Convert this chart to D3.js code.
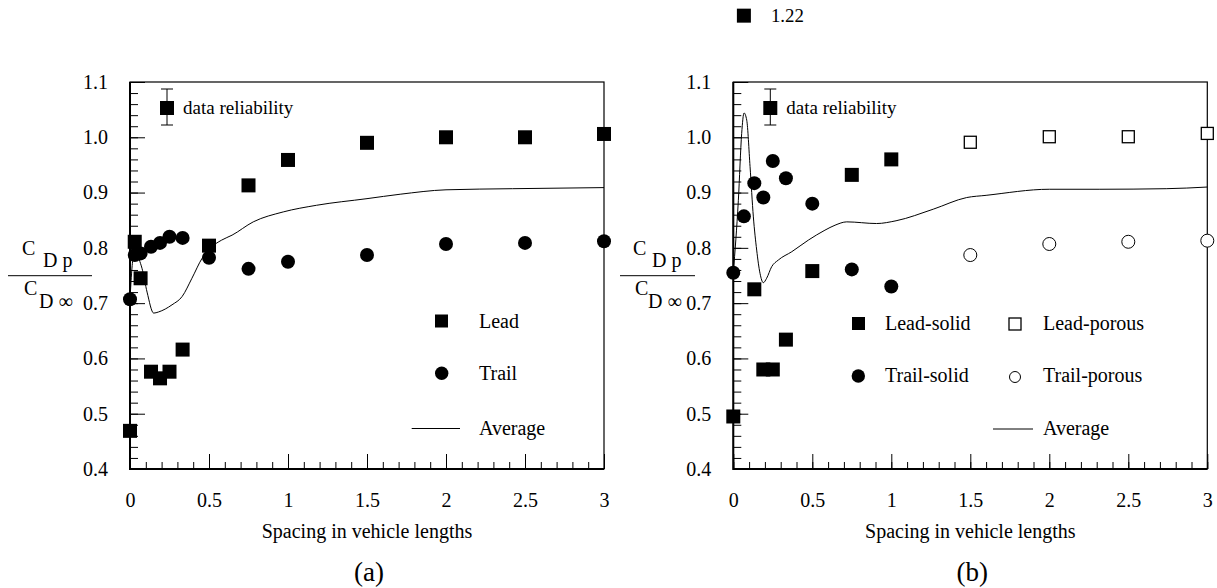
<!DOCTYPE html>
<html>
<head>
<meta charset="utf-8">
<script src="https://cdn.jsdelivr.net/npm/d3@7/dist/d3.min.js"></script>
<style>
body { margin: 0; background: #fff; }
text { font-family: "Liberation Serif", "Times New Roman", serif; fill: #000; }
</style>
</head>
<body>
<svg id="chart" width="1217" height="588"></svg>
<script>
/*
 * Drag ratio of two vehicles vs spacing, panels (a) and (b)
 */

// panel (a)
var spacingA = [0, 0.03, 0.067, 0.133, 0.19, 0.25, 0.333, 0.5, 0.75, 1, 1.5, 2, 2.5, 3];
var leadA = [0.469, 0.811, 0.745, 0.576, 0.564, 0.576, 0.616, 0.804, 0.913, 0.959, 0.990, 1.000, 1.000, 1.006];
var trailA = [0.707, 0.787, 0.790, 0.802, 0.809, 0.820, 0.818, 0.782, 0.762, 0.775, 0.787, 0.807, 0.809, 0.812];
var avgXA = [0, 0.022, 0.04, 0.076, 0.108, 0.15, 0.18, 0.266, 0.33, 0.392, 0.456, 0.51, 0.58, 0.646, 0.78, 0.97, 1.18, 1.5, 1.71, 2.0, 2.42, 3];
var avgYA = [0.707, 0.783, 0.785, 0.763, 0.72, 0.682, 0.684, 0.697, 0.712, 0.745, 0.781, 0.80, 0.814, 0.823, 0.847, 0.865, 0.877, 0.889, 0.897, 0.905, 0.907, 0.909];

// panel (b)
var spacingSolid = [0, 0.067, 0.133, 0.19, 0.25, 0.333, 0.5, 0.75, 1];
var leadSolid = [0.495, 1.22, 0.725, 0.58, 0.58, 0.634, 0.758, 0.932, 0.96];
var trailSolid = [0.755, 0.857, 0.917, 0.891, 0.957, 0.926, 0.88, 0.761, 0.73];
var spacingPorous = [1.5, 2, 2.5, 3];
var leadPorous = [0.991, 1.001, 1.001, 1.007];
var trailPorous = [0.787, 0.807, 0.811, 0.813];
var avgXB = [0, 0.032, 0.053, 0.068, 0.085, 0.106, 0.127, 0.148, 0.169, 0.19, 0.211, 0.243, 0.285, 0.37, 0.475, 0.58, 0.644, 0.718, 0.907, 1.03, 1.266, 1.477, 1.6, 2.0, 2.32, 2.74, 3];
var avgYB = [0.755, 0.886, 1.007, 1.044, 1.031, 0.947, 0.856, 0.796, 0.754, 0.737, 0.745, 0.766, 0.778, 0.793, 0.814, 0.832, 0.841, 0.847, 0.844, 0.849, 0.87, 0.891, 0.895, 0.906, 0.906, 0.907, 0.91];

// ticks
var yMajor = [0.4, 0.5, 0.6, 0.7, 0.8, 0.9, 1.0, 1.1];
var yMinor = d3.range(20, 56).map(function(d){ return d / 50; });
var xMajor = [0, 0.5, 1, 1.5, 2, 2.5, 3];
var xMinor = d3.range(0, 31).map(function(d){ return d / 10; });
var outlier = 1.22;

var svg = d3.select("#chart");
var y = d3.scaleLinear().domain([0.4, 1.1]).range([469, 82]);

function pts(xs, ys){
  return xs.map(function(d, i){ return [d, ys[i]]; });
}

function squares(g, x, data, open, s){
  g.selectAll(null).data(data).enter().append("rect")
    .attr("x", function(d){ return x(d[0]) - s/2; })
    .attr("y", function(d){ return y(d[1]) - s/2; })
    .attr("width", s).attr("height", s)
    .style("fill", open ? "#fff" : "#000")
    .style("stroke", "#000").style("stroke-width", open ? 1.3 : 0);
}

function circles(g, x, data, open, r){
  g.selectAll(null).data(data).enter().append("circle")
    .attr("cx", function(d){ return x(d[0]); })
    .attr("cy", function(d){ return y(d[1]); })
    .attr("r", r)
    .style("fill", open ? "#fff" : "#000")
    .style("stroke", "#000").style("stroke-width", open ? 1 : 0);
}

function label(g, txt, x, yy, size, anchor){
  return g.append("text").attr("x", x).attr("y", yy)
    .style("font-size", size + "px").attr("text-anchor", anchor || "start").text(txt);
}

/*
 * Draw frame, ticks and axis labels of one panel
 */
function drawFrame(left, tag){
  var x = d3.scaleLinear().domain([0, 3]).range([left, left + 474]);
  var g = svg.append("g");

  g.append("g").attr("transform", "translate(" + left + ",0)")
    .call(d3.axisLeft(y).tickValues(yMinor).tickSize(-8).tickFormat(""));
  g.append("g").attr("class", "lab").attr("transform", "translate(" + left + ",0)")
    .call(d3.axisLeft(y).tickValues(yMajor).tickSize(-15).tickPadding(22).tickFormat(d3.format(".1f")));
  g.append("g").attr("transform", "translate(0,469)")
    .call(d3.axisBottom(x).tickValues(xMinor).tickSize(-7).tickFormat(""));
  g.append("g").attr("class", "lab").attr("transform", "translate(0,469)")
    .call(d3.axisBottom(x).tickValues(xMajor).tickSize(-15).tickPadding(24).tickFormat(d3.format("~g")));
  g.selectAll(".domain").remove();
  g.selectAll(".tick line").style("stroke", "#000").style("stroke-width", 1);
  g.selectAll(".lab text").style("font-size", "20px");

  // box, left and bottom edges heavier
  g.append("rect").attr("x", left).attr("y", 82).attr("width", 474).attr("height", 387)
    .style("fill", "none").style("stroke", "#000").style("stroke-width", 1.2);
  g.append("path").attr("d", "M" + left + ",82V469H" + (left + 474))
    .style("fill", "none").style("stroke", "#000").style("stroke-width", 2);

  label(g, "Spacing in vehicle lengths", left + 237, 538, 20, "middle");
  label(g, tag, left + 239, 581, 27, "middle");

  // data reliability marker
  var rx = left + 37;
  g.append("path").attr("d", "M" + (rx - 6) + ",89H" + (rx + 6) + "M" + rx + ",89V125M" + (rx - 6) + ",125H" + (rx + 6))
    .style("stroke", "#000").style("stroke-width", 1).style("fill", "none");
  g.append("rect").attr("x", rx - 7).attr("y", 101).attr("width", 14).attr("height", 14).style("fill", "#000");
  label(g, "data reliability", rx + 16, 114, 19);

  return {g: g, x: x};
}

function drawFraction(lx1, lx2, cx, dx){
  var g = svg.append("g");
  g.append("line").attr("x1", lx1).attr("x2", lx2).attr("y1", 275.7).attr("y2", 275.7)
    .style("stroke", "#000").style("stroke-width", 1);
  label(g, "C", cx, 255, 20);
  label(g, "D p", dx, 267, 20);
  label(g, "C", cx + 2, 295, 20);
  label(g, "D \u221e", dx - 4, 308, 20);
}

var line = function(x){
  return d3.line().x(function(d){ return x(d[0]); }).y(function(d){ return y(d[1]); }).curve(d3.curveMonotoneX);
};

// panel (a)
var pa = drawFrame(130, "(a)");
pa.g.append("path").datum(pts(avgXA, avgYA)).attr("d", line(pa.x))
  .style("fill", "none").style("stroke", "#000").style("stroke-width", 1);
squares(pa.g, pa.x, pts(spacingA, leadA), false, 14);
circles(pa.g, pa.x, pts(spacingA, trailA), false, 7);
drawFraction(8, 92, 22, 43);

// legend (a)
pa.g.append("rect").attr("x", 435).attr("y", 314.5).attr("width", 13).attr("height", 13).style("fill", "#000");
label(pa.g, "Lead", 479, 328, 20);
pa.g.append("circle").attr("cx", 441.7).attr("cy", 373.3).attr("r", 6.7).style("fill", "#000");
label(pa.g, "Trail", 479, 380, 20);
pa.g.append("line").attr("x1", 411.7).attr("x2", 460).attr("y1", 428.5).attr("y2", 428.5).style("stroke", "#000");
label(pa.g, "Average", 479, 435, 20);

// panel (b)
var pb = drawFrame(733.3, "(b)");
pb.g.append("path").datum(pts(avgXB, avgYB)).attr("d", line(pb.x))
  .style("fill", "none").style("stroke", "#000").style("stroke-width", 1);
squares(pb.g, pb.x, pts(spacingSolid, leadSolid), false, 14);
circles(pb.g, pb.x, pts(spacingSolid, trailSolid), false, 7);
squares(pb.g, pb.x, pts(spacingPorous, leadPorous), true, 12);
circles(pb.g, pb.x, pts(spacingPorous, trailPorous), true, 6.5);
label(pb.g, String(outlier), pb.x(spacingSolid[leadSolid.indexOf(outlier)]) + 27, y(outlier) + 6, 19)
  .attr("textLength", 33).attr("lengthAdjust", "spacingAndGlyphs");
drawFraction(620, 695, 633, 652);

// legend (b)
pb.g.append("rect").attr("x", 852).attr("y", 317).attr("width", 13).attr("height", 13).style("fill", "#000");
label(pb.g, "Lead-solid", 885, 330, 20);
pb.g.append("rect").attr("x", 1009).attr("y", 318).attr("width", 12).attr("height", 12)
  .style("fill", "#fff").style("stroke", "#000").style("stroke-width", 1.3);
label(pb.g, "Lead-porous", 1043, 330, 20);
pb.g.append("circle").attr("cx", 858.3).attr("cy", 376).attr("r", 6.7).style("fill", "#000");
label(pb.g, "Trail-solid", 885, 382, 20);
pb.g.append("circle").attr("cx", 1015).attr("cy", 377).attr("r", 5.5)
  .style("fill", "#fff").style("stroke", "#000").style("stroke-width", 1);
label(pb.g, "Trail-porous", 1043, 382, 20);
pb.g.append("line").attr("x1", 993).attr("x2", 1033).attr("y1", 429).attr("y2", 429).style("stroke", "#000");
label(pb.g, "Average", 1043, 435, 20);
</script>
</body>
</html>
